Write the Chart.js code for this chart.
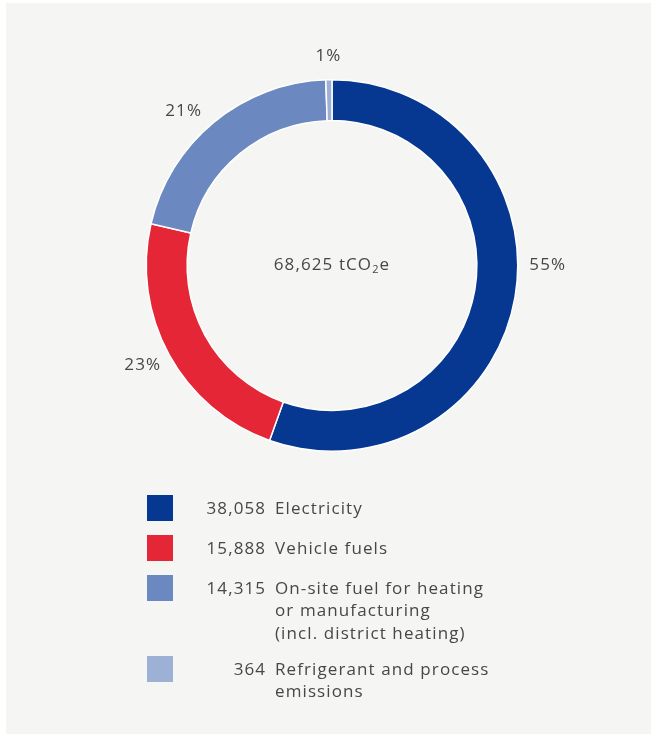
<!DOCTYPE html>
<html>
<head>
<meta charset="utf-8">
<script src="https://cdn.jsdelivr.net/npm/chart.js@4.4.1/dist/chart.umd.min.js"></script>
<style>
  html, body { margin: 0; padding: 0; background: #ffffff; }
  #panel { position: absolute; left: 6px; top: 3px; width: 645px; height: 731px; background: #f5f5f3; }
  #chartEmisiones { position: absolute; left: 0; top: 0; }
</style>
</head>
<body>
<div id="panel"></div>
<canvas id="chartEmisiones" width="651" height="735"></canvas>
<script>
const categorias = ['Electricity', 'Vehicle fuels', 'On-site fuel for heating or manufacturing (incl. district heating)', 'Refrigerant and process emissions'];
const etiquetasLeyenda = [
  ['Electricity'],
  ['Vehicle fuels'],
  ['On-site fuel for heating', 'or manufacturing', '(incl. district heating)'],
  ['Refrigerant and process', 'emissions']
];
const valores = [38058, 15888, 14315, 364];
const colores = ['#063892', '#e42636', '#6b89c0', '#9db1d6'];

const FUENTE = '"Open Sans", Lato, sans-serif';
const GRIS_TEXTO = '#474747';
const ESPACIADO = 1.1;

// nudges so the % labels sit where the original puts them
const ajusteAngulo = [-10, 1, -4.5, 0];
const ajusteRadio = [30, 28, 28, 24];

const total = valores.reduce((a, b) => a + b, 0);
const fmt = n => n.toLocaleString('en-US');

const pluginEtiquetas = {
  id: 'etiquetas',
  afterDraw(chart) {
    const ctx = chart.ctx;
    const meta = chart.getDatasetMeta(0);
    const arc0 = meta.data[0];
    const cx = arc0.x, cy = arc0.y;
    const rOut = arc0.outerRadius;

    ctx.save();
    ctx.letterSpacing = ESPACIADO + 'px';
    ctx.fillStyle = GRIS_TEXTO;
    ctx.font = '17px ' + FUENTE;
    ctx.textAlign = 'center';
    ctx.textBaseline = 'middle';

    // porcentajes fuera del anillo
    meta.data.forEach((arc, i) => {
      const pct = Math.max(1, Math.round(valores[i] / total * 100));
      const ang = (arc.startAngle + arc.endAngle) / 2 + ajusteAngulo[i] * Math.PI / 180;
      const r = rOut + ajusteRadio[i];
      ctx.fillText(pct + '%', cx + Math.cos(ang) * r, cy + Math.sin(ang) * r);
    });

    // texto central
    const parte1 = fmt(total) + ' tCO';
    const parte3 = 'e';
    ctx.font = '17px ' + FUENTE;
    const w1 = ctx.measureText(parte1).width;
    const w3 = ctx.measureText(parte3).width;
    ctx.font = '11px ' + FUENTE;
    const w2 = ctx.measureText('2').width;
    const x0 = cx - (w1 + w2 + w3) / 2;
    ctx.textAlign = 'left';
    ctx.font = '17px ' + FUENTE;
    ctx.fillText(parte1, x0, cy);
    ctx.font = '11px ' + FUENTE;
    ctx.fillText('2', x0 + w1, cy + 4);
    ctx.font = '17px ' + FUENTE;
    ctx.fillText(parte3, x0 + w1 + w2, cy);

    // leyenda
    let y = 495;
    const tam = 26, xCuadro = 147, xValor = 265, xTexto = 275, altoLinea = 22.5;
    valores.forEach((v, i) => {
      ctx.fillStyle = colores[i];
      ctx.fillRect(xCuadro, y, tam, tam);
      ctx.fillStyle = GRIS_TEXTO;
      ctx.font = '17px ' + FUENTE;
      ctx.textAlign = 'right';
      ctx.fillText(fmt(v), xValor + ESPACIADO, y + tam / 2 + 1);
      ctx.textAlign = 'left';
      etiquetasLeyenda[i].forEach((linea, j) => {
        ctx.fillText(linea, xTexto, y + tam / 2 + 1 + j * altoLinea);
      });
      y += 40 + (etiquetasLeyenda[i].length - 1) * 20.5;
    });
    ctx.restore();
  }
};

const ctxEmisiones = document.getElementById('chartEmisiones').getContext('2d');
new Chart(ctxEmisiones, {
  type: 'doughnut',
  data: {
    labels: categorias,
    datasets: [{
      data: valores,
      backgroundColor: colores,
      borderColor: '#ffffff',
      borderWidth: 1.5
    }]
  },
  options: {
    responsive: false,
    animation: false,
    cutout: '78%',
    layout: { padding: { left: 145, right: 132, top: 79, bottom: 283 } },
    plugins: { legend: { display: false }, tooltip: { enabled: false } }
  },
  plugins: [pluginEtiquetas]
});
</script>
</body>
</html>
